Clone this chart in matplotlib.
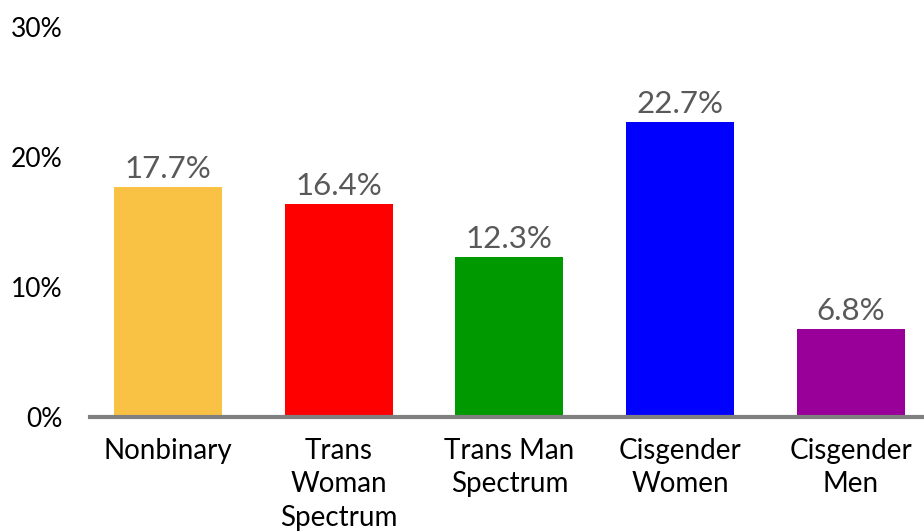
import matplotlib

matplotlib.use("Agg")
from matplotlib import pyplot as plt
from matplotlib.ticker import FuncFormatter

# データ
categories = ["Nonbinary", "Trans\nWoman\nSpectrum", "Trans Man\nSpectrum",
              "Cisgender\nWomen", "Cisgender\nMen"]
values = [17.7, 16.4, 12.3, 22.7, 6.8]
colors = ["#F9C244", "#FF0000", "#009900", "#0000FF", "#990099"]
y_ticks = [0, 10, 20, 30]

plt.rcParams["font.family"] = ["Lato", "DejaVu Sans"]

fig = plt.figure(figsize=(9.24, 5.31), dpi=100)
ax = fig.add_axes([90 / 924, 1 - 417 / 531, 1 - 90 / 924, 390 / 531])

x = range(len(categories))
bars = ax.bar(x, values, width=0.634, color=colors, zorder=2)

# 値ラベル
for b, v in zip(bars, values):
    ax.text(b.get_x() + b.get_width() / 2, v + 0.3, f"{v:.1f}%",
            ha="center", va="bottom", fontsize=22.5, color="#595959")

ax.set_xlim(-0.457, 4.43)
ax.set_ylim(0, 30)
ax.set_yticks(y_ticks)
ax.yaxis.set_major_formatter(FuncFormatter(lambda v, p: f"{v:.0f}%"))
ax.set_xticks(list(x))
ax.set_xticklabels(categories, fontsize=20, linespacing=1.35)
ax.tick_params(axis="y", length=0, labelsize=19, pad=20)
ax.tick_params(axis="x", length=0, pad=15)

for s in ["top", "right", "left"]:
    ax.spines[s].set_visible(False)
ax.spines["bottom"].set_color("#808080")
ax.spines["bottom"].set_linewidth(3)
ax.spines["bottom"].set_zorder(3)

fig.savefig("out.png", dpi=100)
